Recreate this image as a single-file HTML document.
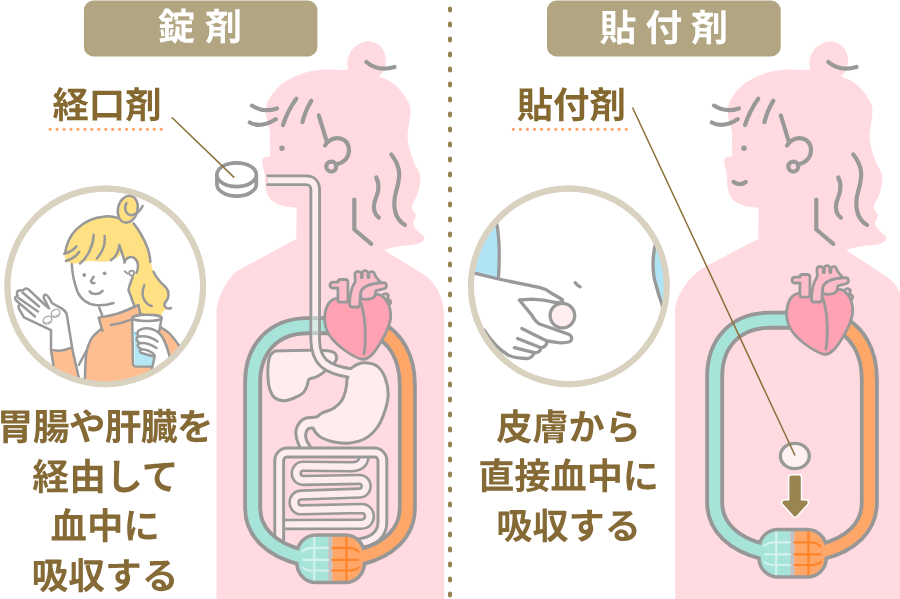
<!DOCTYPE html>
<html lang="ja">
<head>
<meta charset="utf-8">
<title>錠剤と貼付剤</title>
<style>
html,body{margin:0;padding:0;background:#fff;}
body{width:900px;height:599px;overflow:hidden;position:relative;font-family:"Liberation Sans","Noto Sans CJK JP",sans-serif;}
svg{position:absolute;left:0;top:0;display:block;will-change:transform;}
text{font-family:"Liberation Sans","Noto Sans CJK JP",sans-serif;font-weight:700;text-rendering:geometricPrecision;}
.g{fill:none;stroke:#999;stroke-width:4.2;stroke-linecap:round;stroke-linejoin:round;}
.body{fill:#ffdbe1;}
.t{fill:#856a36;font-size:36.8px;text-anchor:middle;}
.o{fill:#ffecef;stroke:#999;stroke-width:3;stroke-linejoin:round;}
.tg{fill:none;stroke:#999;stroke-linejoin:round;}
.tf{fill:none;stroke:#ffecef;stroke-linejoin:round;}
</style>
</head>
<body>
<svg width="900" height="599" viewBox="0 0 900 599">
<defs>
<clipPath id="cl"><circle cx="105.25" cy="286.35" r="96"/></clipPath>
<clipPath id="cr"><circle cx="568.85" cy="286.35" r="96"/></clipPath>
<path id="sil" d="M296.5 238.7C296.5 233.5 296.6 213.0 296.6 207.8C294.4 207.5 287.4 207.2 283.5 206.2C279.6 205.2 275.9 203.4 273.5 201.8C271.1 200.2 270.1 199.2 268.8 196.8C267.5 194.4 266.3 191.0 265.6 187.4C264.9 183.8 265.3 178.6 264.8 175.0C264.3 171.4 263.2 168.5 262.8 166.0C262.4 163.5 261.9 161.6 262.2 160.2C262.4 158.8 262.9 158.3 264.3 157.6C265.7 156.9 269.3 156.3 270.3 156.0C270.2 153.4 270.1 144.6 270.0 140.3C269.9 136.0 270.2 134.0 269.6 130.2C269.0 126.4 267.0 121.5 266.4 117.7C265.8 114.0 265.3 111.0 265.9 107.7C266.5 104.4 267.8 101.2 270.0 97.7C272.2 94.2 275.1 89.8 278.9 86.4C282.7 83.1 287.9 80.0 292.7 77.6C297.5 75.2 302.3 73.4 307.7 72.1C313.1 70.8 319.9 69.9 325.3 69.6C330.7 69.3 336.5 70.1 340.3 70.1C344.1 70.1 347.0 69.7 348.3 69.6C348.2 68.0 346.6 63.7 347.5 60.0C348.4 56.3 350.5 50.6 354.0 47.5C357.5 44.4 363.9 41.5 368.3 41.3C372.7 41.1 377.5 43.6 380.4 46.3C383.3 49.0 385.3 53.6 385.9 57.6C386.5 61.6 385.1 66.9 384.0 70.0C382.9 73.1 379.8 75.3 379.0 76.4C380.9 77.2 386.8 79.1 390.4 81.4C394.0 83.7 397.5 86.9 400.4 90.2C403.3 93.5 406.3 98.1 408.0 101.4C409.7 104.7 410.3 106.5 410.5 110.0C410.7 113.5 409.7 118.5 409.2 122.7C408.7 126.9 407.5 131.1 407.5 135.3C407.5 139.5 408.1 143.2 409.2 147.8C410.3 152.4 412.6 158.8 414.2 162.8C415.8 166.8 417.9 169.1 419.0 172.0C420.1 174.9 420.7 176.6 420.5 180.0C420.3 183.4 419.2 188.9 418.0 192.6C416.8 196.3 414.6 199.6 413.5 202.0C412.4 204.4 411.7 205.3 411.7 206.8C411.7 208.3 412.8 209.8 413.5 211.2C414.2 212.6 415.7 213.6 415.9 215.0C416.1 216.4 415.1 218.1 414.6 219.5C414.1 220.9 412.9 221.9 413.1 223.5C413.3 225.1 414.7 227.2 416.0 229.0C417.3 230.8 419.6 232.6 421.0 234.0C422.4 235.4 424.2 236.3 424.3 237.7C424.4 239.1 423.6 241.0 421.7 242.2C419.8 243.4 416.9 244.0 413.0 244.7C409.1 245.4 402.8 245.6 398.0 246.5C393.2 247.4 386.3 249.4 384.0 250.0L424.2 274.8C433 280.3 444.2 296 444.2 316V605H216.5V314C216.5 296 230 274.9 238.8 270.1Z"/>
<path id="silR" d="M296.5 238.7C296.5 233.5 296.6 213.0 296.6 207.8C294.4 207.5 287.4 207.2 283.5 206.2C279.6 205.2 275.9 203.4 273.5 201.8C271.1 200.2 270.1 199.2 268.8 196.8C267.5 194.4 266.3 191.0 265.6 187.4C264.9 183.8 265.3 178.6 264.8 175.0C264.3 171.4 263.2 168.5 262.8 166.0C262.4 163.5 261.9 161.6 262.2 160.2C262.4 158.8 262.9 158.3 264.3 157.6C265.7 156.9 269.3 156.3 270.3 156.0C270.2 153.4 270.1 144.6 270.0 140.3C269.9 136.0 270.2 134.0 269.6 130.2C269.0 126.4 267.0 121.5 266.4 117.7C265.8 114.0 265.3 111.0 265.9 107.7C266.5 104.4 267.8 101.2 270.0 97.7C272.2 94.2 275.1 89.8 278.9 86.4C282.7 83.1 287.9 80.0 292.7 77.6C297.5 75.2 302.3 73.4 307.7 72.1C313.1 70.8 319.9 69.9 325.3 69.6C330.7 69.3 336.5 70.1 340.3 70.1C344.1 70.1 347.0 69.7 348.3 69.6C348.2 68.0 346.6 63.7 347.5 60.0C348.4 56.3 350.5 50.6 354.0 47.5C357.5 44.4 363.9 41.5 368.3 41.3C372.7 41.1 377.5 43.6 380.4 46.3C383.3 49.0 385.3 53.6 385.9 57.6C386.5 61.6 385.1 66.9 384.0 70.0C382.9 73.1 379.8 75.3 379.0 76.4C380.9 77.2 386.8 79.1 390.4 81.4C394.0 83.7 397.5 86.9 400.4 90.2C403.3 93.5 406.3 98.1 408.0 101.4C409.7 104.7 410.3 106.5 410.5 110.0C410.7 113.5 409.7 118.5 409.2 122.7C408.7 126.9 407.5 131.1 407.5 135.3C407.5 139.5 408.1 143.2 409.2 147.8C410.3 152.4 412.6 158.8 414.2 162.8C415.8 166.8 417.9 169.1 419.0 172.0C420.1 174.9 420.7 176.6 420.5 180.0C420.3 183.4 419.2 188.9 418.0 192.6C416.8 196.3 414.6 199.6 413.5 202.0C412.4 204.4 411.7 205.3 411.7 206.8C411.7 208.3 412.8 209.8 413.5 211.2C414.2 212.6 415.7 213.6 415.9 215.0C416.1 216.4 415.1 218.1 414.6 219.5C414.1 220.9 412.9 221.9 413.1 223.5C413.3 225.1 414.7 227.2 416.0 229.0C417.3 230.8 419.6 232.6 421.0 234.0C422.4 235.4 424.2 236.3 424.3 237.7C424.4 239.1 423.6 241.0 421.7 242.2C419.8 243.4 416.9 244.0 413.0 244.7C409.1 245.4 402.8 245.6 398.0 246.5C393.2 247.4 386.3 249.4 384.0 250.0L424.8 276.8C433.5 282.3 444.5 298 444.5 318V605H213.2V312C213.2 292 232.4 272.3 243 266.7Z"/>
<g id="hair" class="g">
<path d="M366.3 62Q378 72 394.5 67"/>
<path d="M251.9 105.6Q263.4 113 276.9 108.4"/>
<path d="M249.8 122.5Q260.6 128.5 275.8 119.3"/>
<path d="M296.3 98.8Q288 110 283 125"/>
<path d="M311.3 100.8Q305 111 302.5 122"/>
<path d="M318.8 115.5L326.3 140"/>
<path d="M325 145.5C329 139 337 136 344 140C351 145 350 155 345 160C342 163 340 163.5 337.5 164"/>
<circle cx="331.3" cy="166.6" r="5"/>
<path d="M391.3 154.5C402 168 400 178 396 192C393 203 393 218 405 225"/>
<path d="M376.3 177.5C381 187 377 195 374.5 202C373 209 374 214 378.8 217.5"/>
<path d="M354.3 199.5V229.5L371.3 243.8"/>
<circle cx="282" cy="148.2" r="2.7" fill="#999" stroke="none"/>
</g>
<g id="heart" stroke="#999" stroke-width="2.8" stroke-linejoin="round" stroke-linecap="round">
<path d="M383.5 294.3c3.2-1.6 6 0.6 4.2 3.4M387.3 299.6c3.4-0.6 4.6 3.4 1.8 5.2" fill="#ffbdca"/>
<path d="M345.0 298.0C341.5 297.8 339.4 297.4 337.0 298.0C334.6 298.6 332.2 299.5 330.4 301.3C328.6 303.1 327.0 305.7 326.0 309.0C325.0 312.3 324.4 317.2 324.6 321.0C324.9 324.8 325.9 328.7 327.5 332.0C329.1 335.3 331.4 338.2 334.0 341.0C336.6 343.8 339.8 346.6 343.0 349.0C346.2 351.4 349.7 353.9 353.0 355.6C356.3 357.3 359.8 359.5 363.0 359.3C366.2 359.1 369.2 357.2 372.0 354.6C374.8 352.0 377.6 347.4 380.0 343.5C382.4 339.6 384.9 335.1 386.7 331.0C388.4 326.9 389.9 322.7 390.5 319.0C391.1 315.3 390.6 311.9 390.0 309.0C389.4 306.1 388.5 303.8 387.0 301.5C385.5 299.2 383.2 296.4 381.0 295.2C378.8 294.0 376.5 294.2 374.0 294.5C371.5 294.8 368.7 296.2 366.0 297.0C363.3 297.8 361.5 298.8 358.0 299.0C354.5 299.2 348.5 298.2 345.0 298.0Z" fill="#ffa3b4"/>
<path d="M360.8 303C365 315 366.8 336 364 354" fill="none"/>
<path d="M337.9 282.1H332.9a2.95 2.95 0 0 0 0 5.9H337.9V300a2.1 2.1 0 0 0 2.1 2.1h5.8a2.1 2.1 0 0 0 2.1-2.1V282.2a2.7 2.7 0 0 0-2.7-2.7h-4.6a2.7 2.7 0 0 0-2.7 2.7z" fill="#ffbdca"/>
<path d="M360.6 292C362 287 367 284.6 375.5 283.3L383.5 282.6a3.1 3.1 0 0 1 0.6 6.1L375.8 290.8C375.6 294 375.2 296 373.8 297.3C371.5 299.3 366 300 361 298.6z" fill="#ffbdca"/>
<path d="M349.6 304.5C349.6 295 351 288 355.3 281.5L354.9 274.5a3.2 3.2 0 0 1 6.4 0V277.5h1V273.5a2.8 2.8 0 0 1 5.6 0V277.5h1V274.5a2.9 2.9 0 0 1 5.8 0C376 278 378.5 280 380.8 282.3L375.5 283.3C368 284.3 362 287 360.4 293L359.8 304.5a2.5 2.5 0 0 1-2.5 2.5h-5.2a2.5 2.5 0 0 1-2.5-2.5z" fill="#ffbdca"/>
</g>
<g id="capsule">
<clipPath id="capc"><rect x="297" y="535" width="67.3" height="47.6" rx="19"/></clipPath>
<g clip-path="url(#capc)">
<rect x="290" y="530" width="38.5" height="60" fill="#a6e4da"/>
<rect x="332.2" y="530" width="40" height="60" fill="#ffa768"/>
<rect x="328.2" y="530" width="4.2" height="60" fill="#c2c2c2"/>
<path d="M314.2 533V585M301.5 552.3C304 549.5 308 547.8 312 547.8H328M303 559.9H328M303 567.4C305 569.5 308 570.5 312 570.5H328" fill="none" stroke="#d3f2ed" stroke-width="2.2" stroke-linecap="round"/>
<path d="M346.4 533V585M359 552.3C356.5 549.5 352.5 547.8 348.5 547.8H332.4M358.5 559.9H332.4M358.5 567.4C356.5 569.5 353 570.5 348.5 570.5H332.4" fill="none" stroke="#ff8429" stroke-width="2.2" stroke-linecap="round"/>
</g>
<rect x="297" y="535" width="67.3" height="47.6" rx="19" fill="none" stroke="#999" stroke-width="3.5"/>
</g>
</defs>
<!-- centre divider -->
<line x1="450" y1="8.5" x2="450" y2="600" stroke="#95804f" stroke-width="4" stroke-linecap="round" stroke-dasharray="2 13"/>

<!-- ===== LEFT figure ===== -->
<use href="#sil" class="body"/>
<use href="#hair"/>
<!-- stomach -->
<path d="M347.5 371.0C347.9 370.7 348.3 370.2 350.1 369.0C351.9 367.8 355.1 365.0 358.1 364.0C361.1 363.0 364.8 362.5 368.1 363.0C371.5 363.5 375.4 364.5 378.2 367.0C381.0 369.5 383.5 373.5 385.2 378.0C386.9 382.5 388.2 388.7 388.2 394.0C388.2 399.3 386.9 404.7 385.2 410.0C383.5 415.3 381.4 421.3 378.2 426.0C375.0 430.7 370.8 435.2 366.1 438.0C361.4 440.8 355.4 442.3 350.1 443.0C344.8 443.7 338.8 442.8 334.1 442.0C329.4 441.2 325.1 439.5 322.1 438.0C319.1 436.5 317.5 434.7 316.0 433.0C314.5 431.3 313.5 428.8 313.0 428.0C312.2 428.2 309.2 428.0 308.0 429.0C306.8 430.0 305.9 432.2 305.7 434.0C305.4 435.8 305.8 438.0 306.5 440.0C307.2 442.0 308.9 444.2 310.0 446.0C311.1 447.8 312.5 450.2 313.0 451.0C311.2 451.0 303.8 451.0 302.0 451.0C301.5 450.0 299.9 447.2 299.0 445.0C298.1 442.8 297.0 440.5 296.5 438.0C296.0 435.5 295.4 432.7 296.0 430.0C296.6 427.3 298.3 424.0 300.0 422.0C301.7 420.0 303.3 418.8 306.0 418.0C308.7 417.2 313.4 417.8 316.1 417.0C318.8 416.2 319.1 414.5 322.1 413.0C325.1 411.5 330.8 410.2 334.1 408.0C337.4 405.8 340.1 403.3 342.1 400.0C344.1 396.7 345.3 391.8 346.1 388.0C346.9 384.2 346.9 379.8 347.1 377.0C347.3 374.2 347.4 372.0 347.5 371.0Z" class="o"/>
<!-- small intestine -->
<path d="M364.2 453C364.8 461.5 361 466.7 352 466.7L303.3 466.3C293.9 466.3 293.9 480.4 303.3 480.4L359.3 479.4C368.4 479.4 368.4 493.1 359.3 493.1L301.5 495.1C291.6 495.1 291.6 509.85 301.5 509.85L361.5 508.5C372 508.5 372 524.2 361.5 524.2L282 524.4" class="tg" stroke-width="11.5" stroke-linecap="butt"/>
<path d="M364.2 453C364.8 461.5 361 466.7 352 466.7L303.3 466.3C293.9 466.3 293.9 480.4 303.3 480.4L359.3 479.4C368.4 479.4 368.4 493.1 359.3 493.1L301.5 495.1C291.6 495.1 291.6 509.85 301.5 509.85L361.5 508.5C372 508.5 372 524.2 361.5 524.2L282 524.4" class="tf" stroke-width="6.4" stroke-linecap="butt"/>
<!-- large intestine -->
<path d="M279.2 548V460.5a8 8 0 0 1 8-8H374.4a8 8 0 0 1 8 8V522C382.4 534 374 541.5 358 543.5" class="tg" stroke-width="11.8"/>
<path d="M279.2 548V460.5a8 8 0 0 1 8-8H374.4a8 8 0 0 1 8 8V522C382.4 534 374 541.5 358 543.5" class="tf" stroke-width="5.9"/>
<!-- blood loop -->
<g id="loop">
<path d="M350 325.7H308C272 325.7 252.65 350 252.65 382V508C252.65 533 272.5 550 301 557" fill="none" stroke="#979797" stroke-width="18.9"/>
<path d="M370 325.5C397.5 335.5 407.35 360 407.35 385V508C407.35 533 388.5 550 360.3 557" fill="none" stroke="#979797" stroke-width="18.9"/>
<use href="#capsule"/>
<path d="M350 325.7H308C272 325.7 252.65 350 252.65 382V508C252.65 533 272.5 550 301 557" fill="none" stroke="#a6e4da" stroke-width="11.2"/>
<path d="M370 325.5C397.5 335.5 407.35 360 407.35 385V508C407.35 533 388.5 550 360.3 557" fill="none" stroke="#ffa768" stroke-width="11.4"/>
</g>
<!-- liver -->
<path d="M275.0 351.0C280.8 350.9 301.8 350.3 310.0 350.2C318.2 350.1 320.1 350.1 324.0 350.4C327.9 350.7 331.0 350.9 333.1 352.0C335.2 353.1 336.4 355.2 336.6 357.0C336.8 358.8 335.5 361.6 334.1 363.0C332.7 364.4 329.7 364.0 328.0 365.5C326.3 367.0 326.0 370.1 324.0 372.0C322.0 373.9 318.5 375.8 316.0 377.0C313.5 378.2 310.5 377.8 309.0 379.3C307.5 380.8 308.0 383.7 307.0 386.0C306.0 388.3 305.2 391.0 303.0 393.0C300.8 395.0 297.2 396.7 294.0 398.0C290.8 399.3 287.2 400.7 284.0 400.7C280.8 400.7 277.3 399.8 275.0 398.0C272.7 396.2 271.2 393.3 270.0 390.0C268.8 386.7 268.3 382.3 268.0 378.0C267.7 373.7 267.8 367.8 268.2 364.0C268.6 360.2 269.1 357.7 270.2 355.5C271.3 353.3 274.2 351.8 275.0 351.0Z" class="o"/>
<!-- oesophagus -->
<path d="M267.5 180.25H305.7Q315.2 180.25 315.2 190V340C315.4 352 318.5 358.5 324 363.5C330 368.5 340 371.5 350 373.1" class="tg" stroke-width="11.6"/>
<path d="M267.5 180.25H305.7Q315.2 180.25 315.2 190V340C315.4 352 318.5 358.5 324 363.5C330 368.5 340 371.5 350 373.1L352.6 373.6" class="tf" stroke-width="5.8"/>
<circle cx="267.5" cy="175.8" r="1.2" fill="#999"/><circle cx="267.5" cy="184.7" r="1.2" fill="#999"/>
<rect x="312.3" y="316.3" width="5.8" height="18.8" fill="#a6e4da" opacity=".45"/>
<path d="M312.3 318.2h5.8M312.3 333.2h5.8" stroke="#999" stroke-width="3.8" opacity=".4"/>
<use href="#heart"/>
<!-- tablet -->
<path d="M216.9 174.7V184.2A19.7 11.9 0 0 0 256.3 184.2V174.7" fill="#fff" stroke="#999" stroke-width="3.7"/>
<ellipse cx="236.6" cy="174.7" rx="19.7" ry="11.9" fill="#fff" stroke="#999" stroke-width="3.7"/>
<line x1="171.7" y1="117.2" x2="234.3" y2="177.6" stroke="#8b7038" stroke-width="1.5"/>

<!-- ===== RIGHT figure ===== -->
<use href="#silR" class="body" x="462"/>
<use href="#hair" x="462"/>
<path d="M733.6 182Q739.7 186.2 745.8 182" class="g"/>
<g transform="translate(462 -5.5)">
<use href="#loop"/>
<use href="#heart" y="0.5"/>
</g>
<ellipse cx="794.85" cy="456.05" rx="14.45" ry="12.65" fill="#fff0f2" stroke="#999" stroke-width="3.3"/>
<path d="M791.4 477.6H798.8V502.6H805.7L795.1 514.4L784.5 502.6H791.4Z" fill="#fff" stroke="#fff" stroke-width="7" stroke-linejoin="round"/>
<path d="M791.4 477.6H798.8V502.6H805.7L795.1 514.4L784.5 502.6H791.4Z" fill="#9a8552" stroke="#9a8552" stroke-width="4" stroke-linejoin="round"/>
<line x1="632.5" y1="107.5" x2="795" y2="455.5" stroke="#8b7038" stroke-width="1.5"/>

<!-- ===== titles ===== -->
<rect x="83.9" y="0.6" width="233.5" height="55.8" rx="9.5" fill="#b2a581"/>
<text x="205" y="40.3" font-size="37" fill="#fff" text-anchor="middle" letter-spacing="10">錠剤</text>
<rect x="547" y="0.6" width="233.7" height="55.8" rx="9.5" fill="#b2a581"/>
<text x="668.2" y="41.3" font-size="37" fill="#fff" text-anchor="middle" letter-spacing="8.8">貼付剤</text>

<!-- labels -->
<text x="107" y="118" font-size="36.4" fill="#84682f" text-anchor="middle">経口剤</text>
<line x1="50.2" y1="129.3" x2="161.5" y2="129.3" stroke="#ffa56b" stroke-width="3.3" stroke-linecap="round" stroke-dasharray="0 6.94"/>
<text x="571.3" y="118" font-size="36.4" fill="#84682f" text-anchor="middle">貼付剤</text>
<line x1="513.3" y1="129.3" x2="626.5" y2="129.3" stroke="#ffa56b" stroke-width="3.3" stroke-linecap="round" stroke-dasharray="0 7.06"/>

<!-- circles -->
<circle cx="105.25" cy="286.35" r="97.85" fill="#fff" stroke="#d9d2c0" stroke-width="5.95"/>
<circle cx="568.85" cy="286.35" r="97.85" fill="#fff" stroke="#d9d2c0" stroke-width="5.95"/>
<g clip-path="url(#cl)" fill="none" stroke="#999" stroke-width="2.5" stroke-linecap="round" stroke-linejoin="round">
<!-- face + neck -->
<path d="M71.7 262C72 272 73.4 281 77.5 291.7C81 299.5 88 304.5 97 305.2C104 305.5 109 304.6 113.4 303"/>
<path d="M99.2 307.6L102.1 315"/>
<!-- hair -->
<path d="M65.0 253.4C65.2 250.3 65.8 247.2 67.5 243.4C69.2 239.7 71.5 234.8 75.0 230.9C78.5 227.0 83.4 222.4 88.4 220.0C93.4 217.6 99.9 216.7 105.1 216.4C110.2 216.1 114.6 217.2 119.3 218.4C124.0 219.6 129.8 220.6 133.5 223.4C137.2 226.2 139.4 230.8 141.8 235.0C144.2 239.2 146.3 244.2 147.7 248.4C149.1 252.6 149.2 256.1 150.2 260.0C151.2 263.9 152.1 268.4 153.5 271.7C154.9 275.0 156.3 277.2 158.5 280.0C160.7 282.8 165.2 285.6 166.9 288.4C168.6 291.2 168.9 294.2 168.5 296.7C168.1 299.2 164.6 301.4 164.3 303.4C164.0 305.3 166.5 307.6 166.9 308.4C166.1 309.2 162.8 311.2 162.0 313.0C161.2 314.8 161.8 318.0 161.8 319.0C157.2 319.0 138.6 319.0 134.0 319.0C133.9 316.7 133.6 307.3 133.5 305.0C132.7 302.5 128.7 294.7 128.5 290.0C128.3 285.3 131.9 279.2 132.6 277.0C133.2 276.3 135.3 274.8 136.3 272.8C137.3 270.8 139.0 267.4 138.7 265.0C138.4 262.6 136.2 259.8 134.5 258.3C132.8 256.9 130.2 255.6 128.5 256.3C126.8 257.0 125.0 261.5 124.3 262.5C123.9 260.8 122.4 253.8 122.0 252.0C121.4 252.8 120.4 255.3 118.4 256.8C116.4 258.3 113.2 260.2 110.0 261.0C106.8 261.8 102.6 261.5 99.0 261.5C95.4 261.5 92.2 260.7 88.4 261.0C84.6 261.3 79.7 263.3 76.0 263.5C72.3 263.7 67.7 262.2 66.0 262.0C65.8 260.6 64.8 256.5 65.0 253.4Z" fill="#ffe082" stroke="none"/>
<path d="M65 253.4C66.5 243 70.5 235.5 76 229.7C83 222.5 93.5 217 105.1 216.4C110 216.2 115 217 119.3 218.4"/>
<path d="M133.5 223.4C139 230 144.5 240 147.7 248.4C149.5 254 150.2 259 150.4 262"/>
<path d="M153.5 271.7C156 277 161 283 166 287.5C170 292 169 299 164.8 303C163.5 306 166.5 309.8 171 308"/>
<path d="M144.3 285C142 291 142 298 146 302.5C147.5 304.5 149.5 305.5 151.8 305.9"/>
<path d="M93.7 234.7C93.5 245 88 257 80 263.5M104.6 235.9C105.5 245 102 253 96.7 258.5M119.3 245C118.5 252 115.5 257.5 110.9 260.1M119.3 245L125 262"/>
<path d="M64.2 253.8C69 252.5 73.5 250 76.4 246.4M65.9 261C71.5 259.5 76.5 256 79.2 251.8"/>
<path d="M132.6 277C131 282 129 286 128.5 290L134 305"/>
<!-- ear -->
<path d="M124.3 262.5C126 257.3 131 255.8 134.5 258.3C138.7 261.5 139 268.5 136.3 272.8" fill="#fff"/>
<circle cx="131.6" cy="273" r="2.4" fill="#fff" stroke-width="1.8"/>
<path d="M124.6 271.3L127.6 273.6" stroke-width="1.8"/>
<!-- bun -->
<ellipse cx="127.8" cy="209.2" rx="9.8" ry="13.6" transform="rotate(14 127.8 209.2)" fill="#ffe082"/>
<path d="M126.5 203C123.6 208 125.5 215 131.5 215.3C137 214 141 209.5 142.6 205.9"/>
<!-- face details -->
<circle cx="84.2" cy="275" r="1.9" fill="#999" stroke="none"/>
<circle cx="104.6" cy="273.3" r="1.9" fill="#999" stroke="none"/>
<path d="M93.7 276.7L90.9 281.2C91.5 283 93 283.4 94.4 283"/>
<path d="M89.7 291.4C91.5 294.5 98.5 295.5 102.6 290.9"/>
<!-- torso -->
<path d="M98.7 317.6C101.9 316.9 111.4 315.6 118.0 313.5C124.6 311.4 135.1 306.5 138.5 305.1C138.8 306.5 139.8 312.0 140.1 313.4C141.8 314.2 148.3 317.2 150.0 318.0C151.9 319.7 159.8 326.3 161.7 328.0C163.1 329.0 166.9 330.8 170.0 334.0C173.1 337.2 176.7 341.8 180.0 347.0C183.3 352.2 188.3 357.5 190.0 365.0C191.7 372.5 190.0 387.5 190.0 392.0C172.5 392.0 102.5 392.0 85.0 392.0C85.0 389.2 84.8 381.7 85.0 375.0C85.2 368.3 85.5 357.9 86.5 352.0C87.5 346.1 89.3 342.6 90.9 339.5C92.5 336.4 94.2 335.3 96.0 333.5C97.8 331.7 100.8 329.3 101.7 328.5C101.2 326.7 99.2 319.4 98.7 317.6Z" fill="#ffbe8f"/>
<path d="M110.9 325.1C118 324 125 322 131.8 319.3M101.7 328.5L102.6 330.8"/>
<!-- left arm -->
<path d="M50.9 349.3C58 352 66 350 71.8 346.8L82 392H55L53.4 365Z" fill="#ffbe8f"/>
<path d="M86.8 350L78.8 365"/>
<!-- left hand -->
<path d="M51 349V330.2L24 317.3L19.3 309.5Q17 305.2 20.8 304.6L16.2 300.5Q13.5 296.5 17.6 296L17 294Q16.5 290 20.6 290.6L23.5 290Q26 287 28.8 289.6L44 304L49 308.3L43.8 298Q43.3 294.3 46.2 294.8Q48.3 295.8 52 303L58 306.5C63 308.5 66.5 311.5 67 316L72 346.8" fill="#fff"/>
<path d="M22.5 292.5L39 306.5M18.5 298L38 311.5M21.5 305L35 316.5"/>
<g stroke-width="1.2" stroke="#a6a6a6" fill="#fff">
<ellipse cx="55.5" cy="314" rx="4.4" ry="3.2" transform="rotate(-22 55.5 314)"/>
<ellipse cx="55.5" cy="312.8" rx="4.4" ry="3.2" transform="rotate(-22 55.5 312.8)"/>
<ellipse cx="47.5" cy="320.8" rx="4.4" ry="3.2" transform="rotate(-22 47.5 320.8)"/>
<ellipse cx="47.5" cy="319.6" rx="4.4" ry="3.2" transform="rotate(-22 47.5 319.6)"/>
</g>
<!-- glass -->
<path d="M132.2 317.7L133 364Q133.2 366.3 136 366.4H152.5L161.7 317.7Z" fill="#fff"/>
<path d="M134.2 332.5H160L152.3 365.3H134.8Z" fill="#b5e8f7" stroke="none"/>
<path d="M134.2 333.3H159" stroke="#8fd0e8" stroke-width="2.6"/>
<ellipse cx="147" cy="317.9" rx="14.7" ry="3.1" fill="#fff"/>
<!-- right hand -->
<path d="M140.5 329.6C148 326.5 157 329.5 162 336.5C166 343 168 350 169.8 357L162 376L151.5 371L154.6 356.8L141.5 353C139 352 139.5 349.5 141.5 349.3L139 347.5C136.8 346 137.5 343.6 139.5 343.2L138 341.5C135.5 339.5 136.5 337 138.8 336.6C136.5 334.5 137 330.5 140.5 329.6Z" fill="#fff"/>
<path d="M138.8 336.6C145 335.5 152 337.5 157.5 341.5M139.5 343.2C145 342.3 151 344.3 156.5 348M141.5 349.3C146 349.3 151 351.3 154.6 355.2"/>
</g><g clip-path="url(#cr)" fill="none" stroke="#999" stroke-width="3.3" stroke-linecap="round" stroke-linejoin="round">
<path d="M496.7 215C500.5 240 499.5 262 498.4 278.5L465 270V215Z" fill="#b0e4f4" stroke="none"/>
<path d="M655.7 235C651.5 256 652.5 275 656 285C658 293 660 299 662.5 306L680 306V235Z" fill="#b0e4f4" stroke="none"/>
<path d="M496.5 222C500.5 242 499.5 262 498.4 278.5"/>
<path d="M656.5 240C651.5 256 652.5 275 656 285C658 293 660 299 662.5 306"/>
<path d="M575.2 282.7Q577 285.5 580.2 286.9"/>
<!-- hand -->
<path d="M468 271.5L498.4 279L540.2 287.7C545 288.7 548 290.5 551 293L561.9 299.2C563.5 301 562.5 302.8 556 302.6L543.5 300.1L531.8 299.2L519.3 300L531.8 315.1C534 319.5 536 322 539.5 324L568.6 334.3C572.5 336 572.5 340.5 569.4 341.8C566 342.9 562 342.9 558.5 342.7L546.8 341C547.3 344.5 544.5 347.5 541 347.7C540.8 351 537.5 353 534.3 352.7C533 356.5 529.5 358.7 526 358.5C519 358.3 512.5 357.3 508.4 355.2C499 350 491 341 484 330" fill="#fff"/>
<path d="M521.8 328.5L546.8 341M517.6 338.5L541 347.7M514.3 347.7L534.3 352.7"/>
<circle cx="562.4" cy="315.6" r="12.3" fill="#ffeef0"/>
</g>
<circle cx="105.25" cy="286.35" r="97.85" fill="none" stroke="#d9d2c0" stroke-width="5.95"/>
<circle cx="568.85" cy="286.35" r="97.85" fill="none" stroke="#d9d2c0" stroke-width="5.95"/>

<!-- body copy -->
<text class="t" x="104.7" y="440" letter-spacing="-0.8">胃腸や肝臓を</text>
<text class="t" x="105.4" y="489.9">経由して</text>
<text class="t" x="105.2" y="538.8" style="font-size:36.4px">血中に</text>
<text class="t" x="105" y="588.7">吸収する</text>
<text class="t" x="568.6" y="440.4" style="font-size:36.2px">皮膚から</text>
<text class="t" x="568.6" y="489" style="font-size:36.2px">直接血中に</text>
<text class="t" x="568.6" y="538.6" style="font-size:36.2px">吸収する</text>
</svg>
</body>
</html>
